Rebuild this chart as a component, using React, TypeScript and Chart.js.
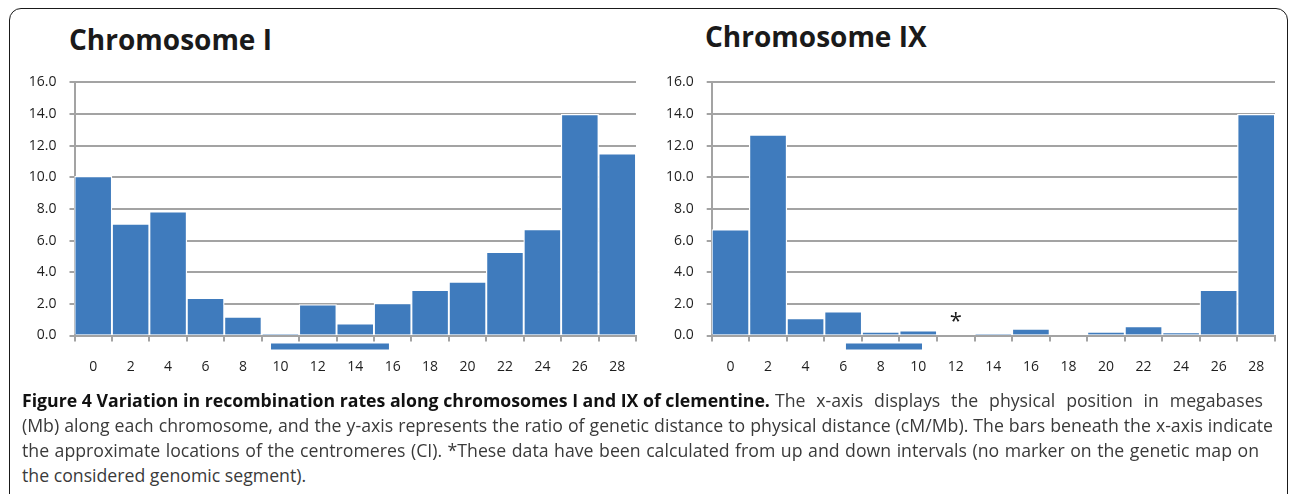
import React, { useEffect, useRef } from "react";
import { Chart, registerables } from "chart.js";

Chart.register(...registerables);

// ---------- data ----------
const positionsMb = ["0", "2", "4", "6", "8", "10", "12", "14", "16", "18", "20", "22", "24", "26", "28"];
const chrIRates = [10.06, 7.06, 7.84, 2.37, 1.18, 0.1, 1.95, 0.76, 2.04, 2.88, 3.4, 5.27, 6.72, 13.98, 11.51];
const chrIXRates = [6.7, 12.69, 1.09, 1.51, 0.23, 0.32, null, 0.08, 0.42, 0, 0.23, 0.59, 0.17, 2.88, 13.98];
const chrICentromereMb = [9.5, 15.8];
const chrIXCentromereMb = [6.15, 10.2];
const chrIXAsteriskPositions = ["12"];
const chrIXAsteriskValues = [1.2];
const yTickValues = [0, 2, 4, 6, 8, 10, 12, 14, 16];
const positionStepMb = 2;

const captionBold = "Figure 4 Variation in recombination rates along chromosomes I and IX of clementine.";
const captionLines = [
  "The x-axis displays the physical position in megabases",
  "(Mb) along each chromosome, and the y-axis represents the ratio of genetic distance to physical distance (cM/Mb). The bars beneath the x-axis indicate",
  "the approximate locations of the centromeres (CI). *These data have been calculated from up and down intervals (no marker on the genetic map on",
  "the considered genomic segment).",
];

// ---------- style ----------
const BLUE = "#3f7bbd";
const GRID = "#a3a3a3";
const TICK_COLOR = "#1e1e1e";
const TICK_FONT = { family: "'Open Sans', sans-serif", size: 14 };

const centromerePlugin = {
  id: "centromere",
  afterDatasetsDraw(chart: any, _args: any, opts: any) {
    if (!opts || !opts.range) return;
    const xs = chart.scales.x;
    const [s, e] = opts.range;
    const x0 = xs.getPixelForValue(s / positionStepMb);
    const x1 = xs.getPixelForValue(e / positionStepMb);
    const top = chart.chartArea.bottom + 8;
    const ctx = chart.ctx;
    ctx.save();
    ctx.fillStyle = BLUE;
    ctx.fillRect(x0, top, x1 - x0, 6);
    ctx.restore();
  },
};

const asteriskPlugin = {
  id: "asterisk",
  afterDatasetsDraw(chart: any, _args: any, opts: any) {
    if (!opts || !opts.positions) return;
    const xs = chart.scales.x;
    const ys = chart.scales.y;
    const ctx = chart.ctx;
    ctx.save();
    ctx.fillStyle = "#1a1a1a";
    ctx.font = "22px 'Open Sans', sans-serif";
    ctx.textAlign = "center";
    ctx.textBaseline = "alphabetic";
    opts.positions.forEach((p: string, i: number) => {
      const idx = positionsMb.indexOf(p);
      const px = xs.getPixelForValue(idx);
      const py = ys.getPixelForValue(opts.values[i]);
      const m = ctx.measureText("*");
      const off = (m.actualBoundingBoxAscent - m.actualBoundingBoxDescent) / 2;
      ctx.fillText("*", px, py + off);
    });
    ctx.restore();
  },
};

type BarChartProps = {
  left: number;
  top: number;
  width: number;
  height: number;
  yAxisWidth: number;
  padRight: number;
  data: (number | null)[];
  centromere: number[];
  asterisk?: { positions: string[]; values: number[] };
};

function BarChart(props: BarChartProps) {
  const ref = useRef<HTMLCanvasElement | null>(null);
  useEffect(() => {
    if (!ref.current) return;
    const chart = new Chart(ref.current, {
      type: "bar",
      data: {
        labels: positionsMb,
        datasets: [
          {
            data: props.data as any,
            backgroundColor: BLUE,
            borderColor: "#ffffff",
            borderWidth: 1.3,
            barPercentage: 1,
            categoryPercentage: 1,
          },
        ],
      },
      plugins: [centromerePlugin, asteriskPlugin],
      options: {
        animation: false,
        responsive: false,
        maintainAspectRatio: false,
        events: [],
        layout: { padding: { top: 12, right: props.padRight, left: 0, bottom: 0 } },
        plugins: {
          legend: { display: false },
          tooltip: { enabled: false },
          title: { display: false },
          centromere: { range: props.centromere },
          asterisk: props.asterisk ? { positions: props.asterisk.positions, values: props.asterisk.values } : {},
        } as any,
        scales: {
          x: {
            type: "category",
            offset: true,
            grid: {
              display: true,
              drawOnChartArea: false,
              drawTicks: true,
              tickLength: 6,
              color: GRID,
              lineWidth: 2,
              offset: true,
            },
            border: { display: true, color: GRID, width: 2 },
            ticks: { font: TICK_FONT, color: TICK_COLOR, padding: 17, maxRotation: 0, autoSkip: false },
            afterFit(s: any) {
              s.height = 54.5;
            },
          },
          y: {
            min: 0,
            max: 16,
            afterBuildTicks(s: any) {
              s.ticks = yTickValues.map((v) => ({ value: v }));
            },
            ticks: {
              font: TICK_FONT,
              color: TICK_COLOR,
              padding: 13,
              callback: (v: any) => Number(v).toFixed(1),
            },
            grid: { color: GRID, lineWidth: 2, tickLength: 5, drawTicks: true },
            border: { display: true, color: GRID, width: 2 },
            afterFit(s: any) {
              s.width = props.yAxisWidth;
            },
          },
        },
      } as any,
    });
    return () => chart.destroy();
  }, []);
  return (
    <canvas
      ref={ref}
      width={props.width}
      height={props.height}
      style={{ position: "absolute", left: props.left, top: props.top, width: props.width, height: props.height }}
    />
  );
}

export default function App() {
  useEffect(() => {
    document.documentElement.style.overflow = "hidden";
    document.body.style.overflow = "hidden";
  }, []);

  const titleStyle: React.CSSProperties = {
    position: "absolute",
    fontFamily: "'Open Sans', sans-serif",
    fontWeight: 700,
    fontSize: 28,
    lineHeight: "28px",
    color: "#1a1a1a",
    whiteSpace: "nowrap",
  };

  const captionStyle: React.CSSProperties = {
    position: "absolute",
    left: 22,
    fontFamily: "'Open Sans', sans-serif",
    fontSize: 17.7,
    lineHeight: "25px",
    color: "#3a3a3a",
    whiteSpace: "nowrap",
  };
  const justified: React.CSSProperties = {
    whiteSpace: "normal",
    textAlign: "justify",
    textAlignLast: "justify" as any,
    height: 25,
    overflow: "visible",
  };

  return (
    <div style={{ position: "absolute", left: 0, top: 0, width: 1290, height: 494, overflow: "hidden", background: "#fff" }}>
      <div
        style={{
          position: "absolute",
          left: 9,
          top: 8,
          width: 1279,
          height: 520,
          border: "1.5px solid #1a1a1a",
          borderRadius: 12,
          boxSizing: "border-box",
        }}
      />
      <div style={{ ...titleStyle, left: 69, top: 25 }}>Chromosome I</div>
      <div style={{ ...titleStyle, left: 705, top: 22 }}>Chromosome IX</div>

      <BarChart left={20} top={61} width={630} height={329} yAxisWidth={54.5} padRight={14} data={chrIRates} centromere={chrICentromereMb} />
      <BarChart
        left={660}
        top={61}
        width={630}
        height={329}
        yAxisWidth={51.7}
        padRight={15}
        data={chrIXRates}
        centromere={chrIXCentromereMb}
        asterisk={{ positions: chrIXAsteriskPositions, values: chrIXAsteriskValues }}
      />

      <div style={{ ...captionStyle, top: 388, width: 1241, display: "flex" }}>
        <span style={{ fontWeight: 700, color: "#111", whiteSpace: "nowrap", flex: "none" }}>{captionBold}</span>
        <div style={{ ...justified, flex: "1 1 auto", marginLeft: 5 }}>{captionLines[0]}</div>
      </div>
      <div style={{ ...captionStyle, ...justified, width: 1251, top: 413 }}>{captionLines[1]}</div>
      <div style={{ ...captionStyle, ...justified, width: 1237, top: 438 }}>{captionLines[2]}</div>
      <div style={{ ...captionStyle, top: 463 }}>{captionLines[3]}</div>
    </div>
  );
}
